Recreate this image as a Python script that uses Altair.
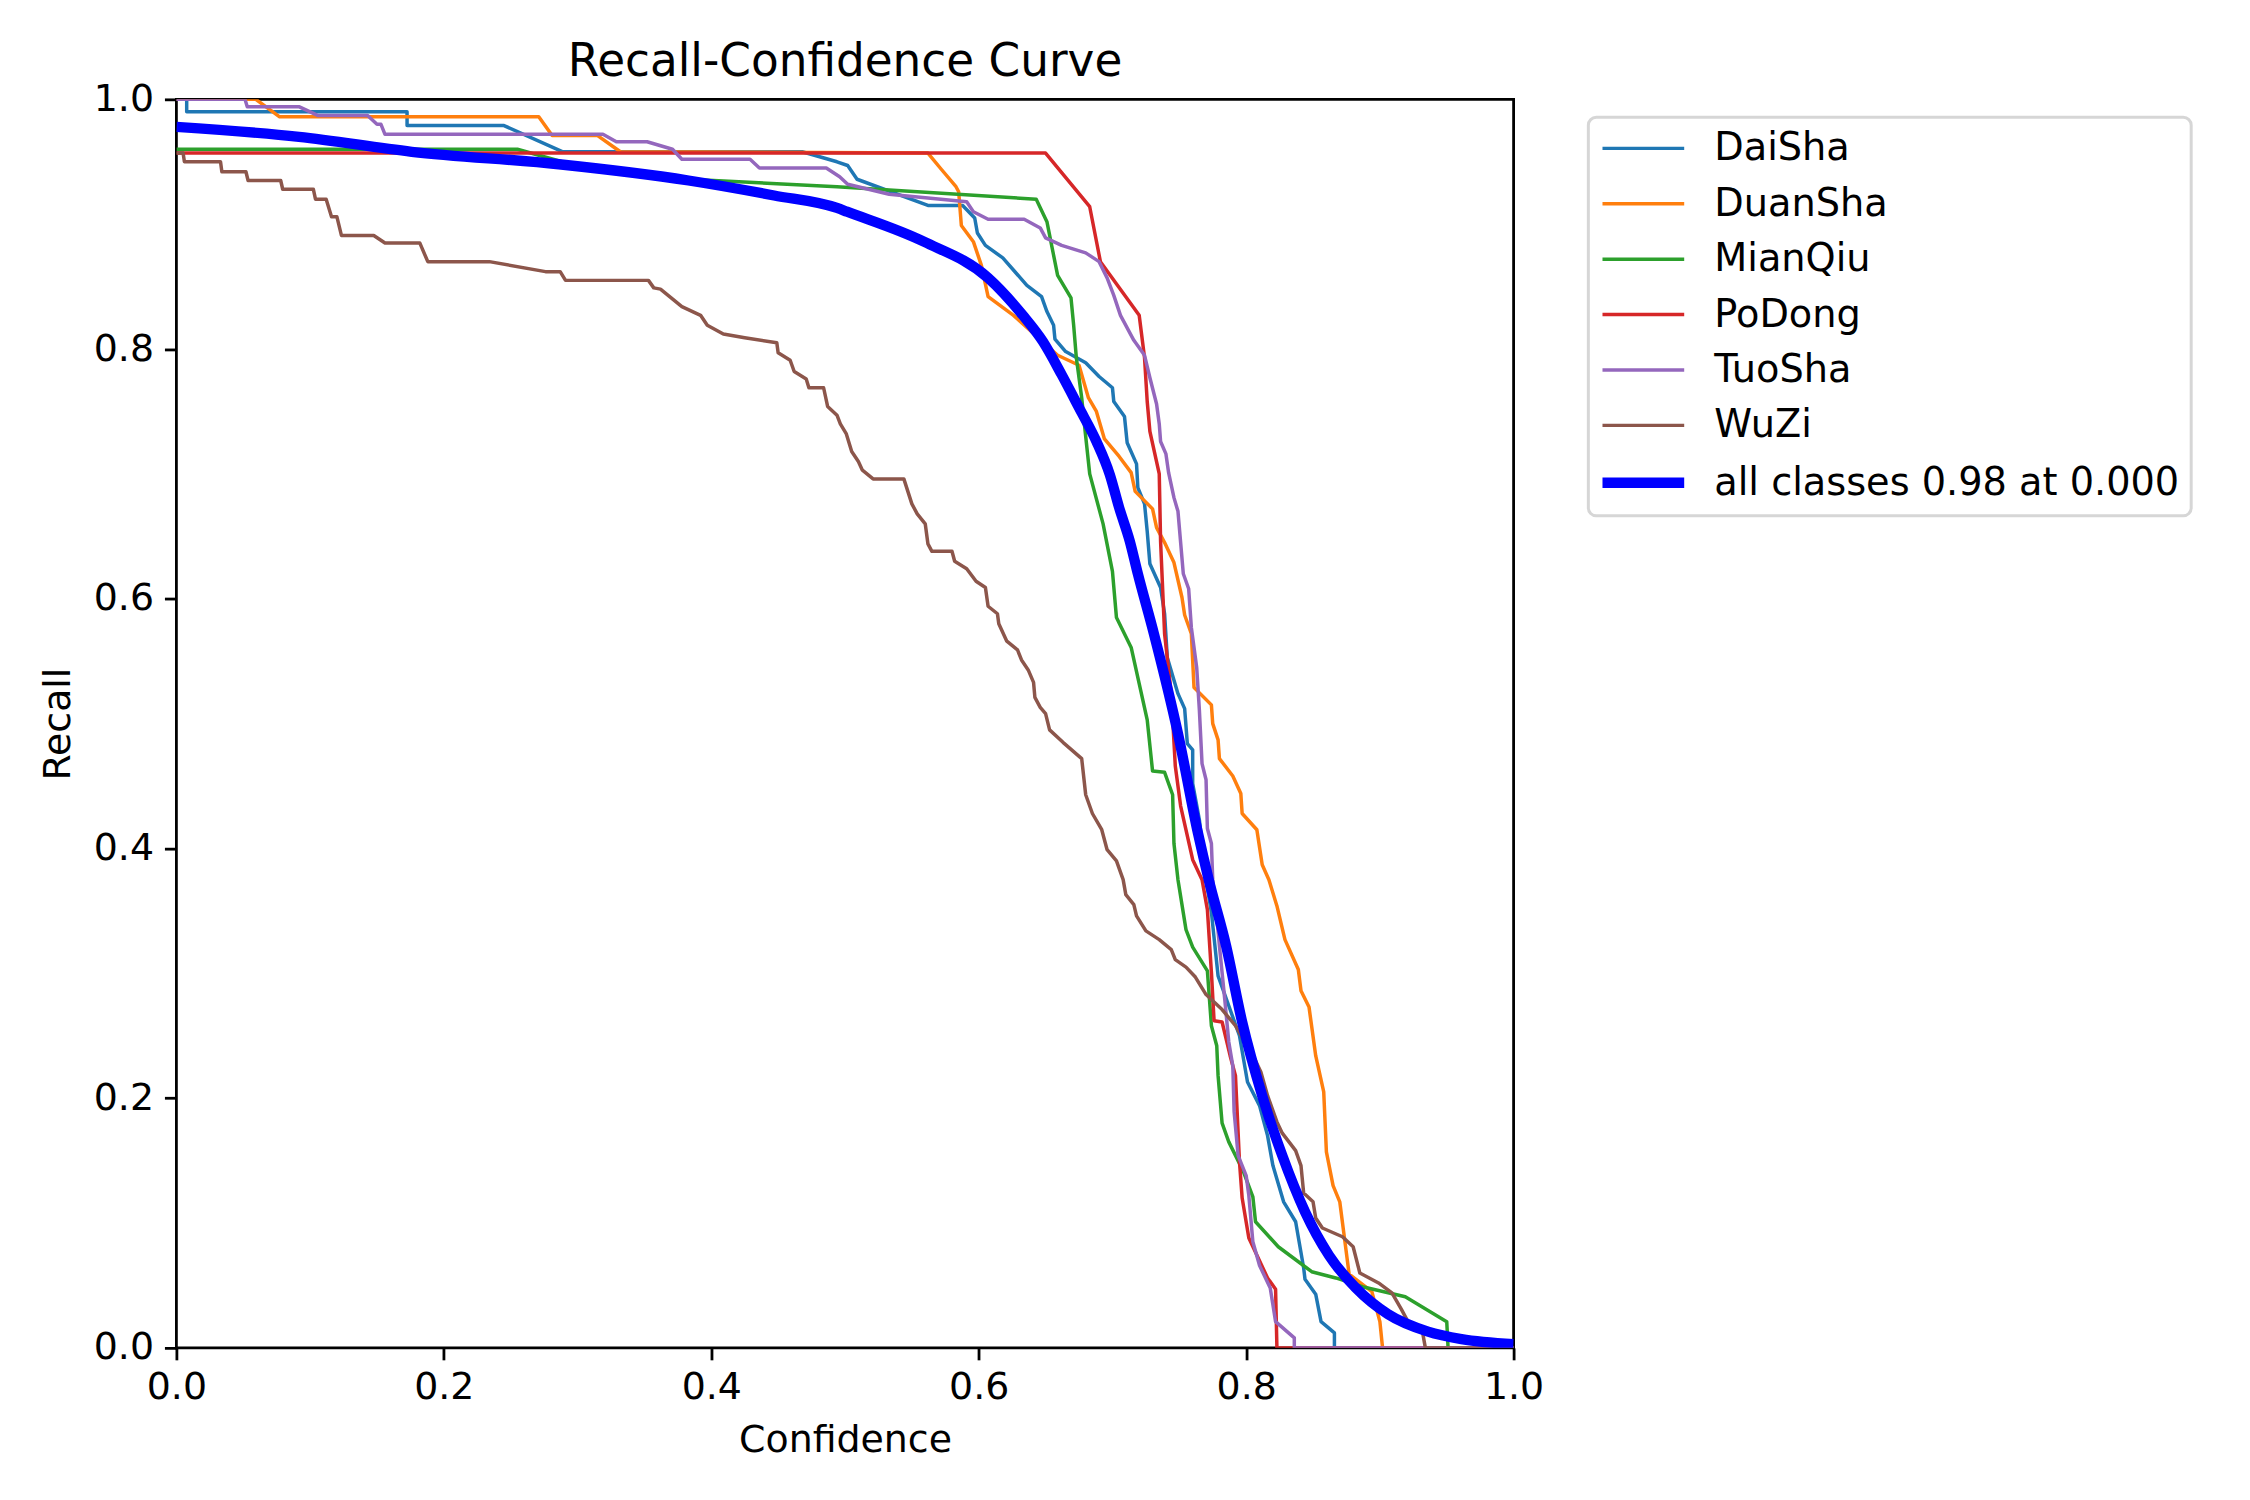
import altair as alt
import pandas as pd

# ---------------- data ----------------
series_names = ["DaiSha", "DuanSha", "MianQiu", "PoDong", "TuoSha", "WuZi",
                "all classes 0.98 at 0.000"]
series_colors = ["#1f77b4", "#ff7f0e", "#2ca02c", "#d62728", "#9467bd", "#8c564b", "#0000ff"]

daisha_conf = [0, 0.0077, 0.0077, 0.1725, 0.1725, 0.245, 0.289, 0.468, 0.494, 0.502, 0.509, 0.562,
               0.588, 0.597, 0.599, 0.605, 0.618, 0.636, 0.647, 0.651, 0.656, 0.657, 0.665, 0.680,
               0.690, 0.700, 0.701, 0.709, 0.711, 0.718, 0.719, 0.724, 0.726, 0.728, 0.736, 0.739,
               0.741, 0.749, 0.754, 0.756, 0.760, 0.760, 0.765, 0.770, 0.774, 0.779, 0.787, 0.795,
               0.801, 0.810, 0.816, 0.820, 0.828, 0.837, 0.843, 0.844, 0.852, 0.856, 0.866, 0.866, 1.0]
daisha_rec = [1.0, 1.0, 0.99, 0.99, 0.979, 0.979, 0.958, 0.958, 0.950, 0.947, 0.936, 0.915,
              0.915, 0.905, 0.893, 0.883, 0.873, 0.851, 0.842, 0.830, 0.819, 0.808, 0.798, 0.789,
              0.778, 0.769, 0.758, 0.746, 0.725, 0.708, 0.689, 0.676, 0.654, 0.628, 0.609, 0.588,
              0.553, 0.524, 0.512, 0.484, 0.479, 0.452, 0.423, 0.375, 0.349, 0.298, 0.274, 0.250,
              0.213, 0.194, 0.170, 0.146, 0.117, 0.101, 0.064, 0.055, 0.043, 0.021, 0.012, 0.0, 0.0]

duansha_conf = [0, 0.0594, 0.0772, 0.271, 0.281, 0.315, 0.332, 0.562, 0.572, 0.583, 0.585, 0.587,
                0.596, 0.602, 0.607, 0.626, 0.659, 0.675, 0.682, 0.688, 0.694, 0.705, 0.714, 0.717,
                0.730, 0.733, 0.739, 0.746, 0.752, 0.754, 0.759, 0.761, 0.774, 0.775, 0.779, 0.780,
                0.790, 0.796, 0.797, 0.808, 0.812, 0.817, 0.823, 0.829, 0.839, 0.841, 0.847, 0.852,
                0.858, 0.860, 0.865, 0.870, 0.877, 0.894, 0.900, 0.902, 1.0]
duansha_rec = [1.0, 1.0, 0.986, 0.986, 0.971, 0.971, 0.958, 0.957, 0.944, 0.930, 0.926, 0.899,
               0.886, 0.867, 0.842, 0.827, 0.795, 0.787, 0.761, 0.750, 0.728, 0.714, 0.701, 0.686,
               0.672, 0.657, 0.645, 0.629, 0.601, 0.587, 0.572, 0.529, 0.515, 0.500, 0.487, 0.472,
               0.458, 0.444, 0.428, 0.415, 0.387, 0.375, 0.354, 0.327, 0.303, 0.286, 0.273, 0.234,
               0.205, 0.157, 0.130, 0.117, 0.059, 0.045, 0.021, 0.0, 0.0]

mianqiu_conf = [0, 0.255, 0.295, 0.383, 0.494, 0.643, 0.651, 0.659, 0.669, 0.671, 0.673, 0.677,
                0.679, 0.683, 0.693, 0.700, 0.703, 0.714, 0.720, 0.726, 0.730, 0.739, 0.745, 0.746,
                0.749, 0.755, 0.760, 0.771, 0.774, 0.778, 0.779, 0.782, 0.787, 0.798, 0.805, 0.807,
                0.824, 0.849, 0.867, 0.887, 0.919, 0.950, 0.951, 1.0]
mianqiu_rec = [0.960, 0.960, 0.948, 0.936, 0.930, 0.920, 0.902, 0.859, 0.841, 0.819, 0.793, 0.761,
               0.740, 0.700, 0.660, 0.622, 0.585, 0.561, 0.532, 0.503, 0.462, 0.461, 0.443, 0.404,
               0.375, 0.335, 0.321, 0.302, 0.258, 0.242, 0.218, 0.180, 0.165, 0.141, 0.121, 0.101,
               0.081, 0.061, 0.056, 0.049, 0.041, 0.021, 0.0, 0.0]

podong_conf = [0, 0.650, 0.683, 0.691, 0.720, 0.724, 0.726, 0.728, 0.735, 0.736, 0.739, 0.744,
               0.747, 0.751, 0.760, 0.767, 0.771, 0.774, 0.776, 0.782, 0.788, 0.792, 0.795, 0.797,
               0.802, 0.816, 0.822, 0.823, 1.0]
podong_rec = [0.957, 0.957, 0.914, 0.870, 0.827, 0.793, 0.758, 0.734, 0.700, 0.646, 0.572, 0.524,
              0.466, 0.434, 0.391, 0.375, 0.351, 0.301, 0.262, 0.261, 0.234, 0.218, 0.149, 0.120,
              0.088, 0.056, 0.047, 0.0, 0.0]

tuosha_conf = [0, 0.0513, 0.053, 0.092, 0.106, 0.143, 0.150, 0.153, 0.156, 0.319, 0.329, 0.352,
               0.371, 0.378, 0.429, 0.436, 0.486, 0.496, 0.502, 0.533, 0.591, 0.596, 0.607, 0.634,
               0.646, 0.650, 0.662, 0.680, 0.690, 0.696, 0.701, 0.706, 0.716, 0.724, 0.728, 0.733,
               0.735, 0.736, 0.740, 0.742, 0.746, 0.749, 0.753, 0.757, 0.759, 0.763, 0.765, 0.767,
               0.770, 0.771, 0.774, 0.775, 0.778, 0.780, 0.784, 0.787, 0.790, 0.791, 0.794, 0.800,
               0.802, 0.805, 0.810, 0.818, 0.822, 0.836, 0.836, 1.0]
tuosha_rec = [1.0, 1.0, 0.994, 0.994, 0.987, 0.987, 0.980, 0.980, 0.972, 0.972, 0.966, 0.966,
              0.960, 0.952, 0.952, 0.945, 0.945, 0.938, 0.932, 0.924, 0.918, 0.910, 0.904, 0.904,
              0.897, 0.889, 0.883, 0.877, 0.870, 0.857, 0.843, 0.827, 0.807, 0.795, 0.777, 0.756,
              0.740, 0.726, 0.716, 0.701, 0.681, 0.670, 0.620, 0.608, 0.577, 0.545, 0.511, 0.468,
              0.455, 0.416, 0.404, 0.375, 0.345, 0.322, 0.279, 0.245, 0.226, 0.189, 0.154, 0.138,
              0.122, 0.085, 0.066, 0.048, 0.021, 0.008, 0.0, 0.0]

wuzi_conf = [0, 0.005, 0.006, 0.033, 0.034, 0.052, 0.0536, 0.078, 0.0795, 0.1024, 0.104, 0.112,
             0.116, 0.120, 0.1234, 0.1476, 0.156, 0.182, 0.188, 0.234, 0.276, 0.287, 0.291, 0.353,
             0.357, 0.362, 0.378, 0.392, 0.397, 0.409, 0.425, 0.449, 0.450, 0.459, 0.462, 0.471,
             0.473, 0.484, 0.487, 0.494, 0.4965, 0.501, 0.505, 0.510, 0.513, 0.521, 0.544, 0.550,
             0.554, 0.560, 0.562, 0.565, 0.580, 0.582, 0.591, 0.598, 0.605, 0.607, 0.614, 0.615,
             0.621, 0.629, 0.632, 0.637, 0.641, 0.642, 0.646, 0.650, 0.653, 0.663, 0.677, 0.680,
             0.685, 0.692, 0.696, 0.703, 0.708, 0.710, 0.716, 0.718, 0.725, 0.735, 0.744, 0.747,
             0.755, 0.762, 0.770, 0.782, 0.792, 0.807, 0.811, 0.816, 0.823, 0.827, 0.837, 0.841,
             0.843, 0.850, 0.852, 0.857, 0.872, 0.880, 0.885, 0.899, 0.909, 0.916, 0.922, 0.932,
             0.934, 1.0]
wuzi_rec = [0.957, 0.957, 0.950, 0.950, 0.942, 0.942, 0.935, 0.935, 0.928, 0.928, 0.920, 0.920,
            0.906, 0.906, 0.891, 0.891, 0.885, 0.885, 0.870, 0.870, 0.862, 0.862, 0.855, 0.855,
            0.849, 0.848, 0.834, 0.827, 0.819, 0.812, 0.809, 0.805, 0.797, 0.791, 0.782, 0.776,
            0.769, 0.769, 0.754, 0.747, 0.740, 0.732, 0.718, 0.710, 0.703, 0.696, 0.696, 0.676,
            0.668, 0.660, 0.644, 0.638, 0.638, 0.630, 0.624, 0.614, 0.609, 0.594, 0.588, 0.580,
            0.566, 0.559, 0.551, 0.543, 0.533, 0.521, 0.513, 0.508, 0.495, 0.485, 0.472, 0.443,
            0.428, 0.415, 0.399, 0.390, 0.375, 0.363, 0.355, 0.346, 0.334, 0.327, 0.319, 0.311,
            0.305, 0.297, 0.283, 0.271, 0.258, 0.230, 0.221, 0.202, 0.181, 0.172, 0.158, 0.146,
            0.124, 0.117, 0.104, 0.096, 0.089, 0.081, 0.060, 0.052, 0.044, 0.031, 0.019, 0.012,
            0.0, 0.0]

all_conf = [0, 0.0917, 0.176, 0.286, 0.383, 0.447, 0.494, 0.5015, 0.559, 0.607, 0.633, 0.648,
            0.662, 0.675, 0.688, 0.698, 0.705, 0.713, 0.719, 0.731, 0.749, 0.764, 0.772, 0.785,
            0.797, 0.812, 0.827, 0.844, 0.862, 0.882, 0.906, 0.936, 0.961, 1.0]
all_rec = [0.978, 0.970, 0.958, 0.948, 0.935, 0.923, 0.913, 0.910, 0.886, 0.857, 0.827, 0.806,
           0.7795, 0.753, 0.726, 0.6995, 0.673, 0.646, 0.620, 0.572, 0.492, 0.412, 0.375, 0.322,
           0.261, 0.202, 0.154, 0.109, 0.074, 0.048, 0.027, 0.013, 0.007, 0.003]

class_curves = [(daisha_conf, daisha_rec), (duansha_conf, duansha_rec), (mianqiu_conf, mianqiu_rec),
                (podong_conf, podong_rec), (tuosha_conf, tuosha_rec), (wuzi_conf, wuzi_rec)]

# ---------------- tables ----------------
rows = []
for name, (cs, rs) in zip(series_names[:6], class_curves):
    for i, (c, r) in enumerate(zip(cs, rs)):
        rows.append({"series": name, "conf": c, "recall": r, "idx": i})
df_cls = pd.DataFrame(rows)
df_all = pd.DataFrame({"series": series_names[6], "conf": all_conf, "recall": all_rec,
                       "idx": list(range(len(all_conf)))})

FONT = "DejaVu Sans"
FS = 38
PLOT_W, PLOT_H = 1342, 1253
THIN, THICK = 3.5, 10.4
tick_vals = [0.0, 0.2, 0.4, 0.6, 0.8, 1.0]

legend = alt.Legend(
    orient="none", legendX=1417, legendY=18, title=None,
    symbolType="M-2.05,0H2.05", symbolSize=1600, symbolOffset=24,
    labelFont=FONT, labelFontSize=38.4, labelColor="black", labelOffset=52, labelLimit=0,
    padding=12, rowPadding=16.6, fillColor="white", strokeColor="#d6d6d6",
    cornerRadius=8, symbolFillColor="transparent",
    symbolStrokeWidth=alt.ExprRef(f"datum.value === '{series_names[6]}' ? {THICK} : {THIN}"),
)
color = alt.Color("series:N", scale=alt.Scale(domain=series_names, range=series_colors),
                  legend=legend, title=None)

x = alt.X("conf:Q", scale=alt.Scale(domain=[0, 1], nice=False, zero=False),
          axis=alt.Axis(values=tick_vals, format=".1f", title="Confidence",
                        titleX=PLOT_W / 2, titleY=104, titleBaseline="alphabetic",
                        titleAlign="center", labelPadding=9))
y = alt.Y("recall:Q", scale=alt.Scale(domain=[0, 1], nice=False, zero=False),
          axis=alt.Axis(values=tick_vals, format=".1f", title="Recall",
                        titleX=-107, titleY=PLOT_H / 2, titleAngle=270,
                        titleBaseline="alphabetic", titleAlign="center", labelPadding=11))

lines_cls = alt.Chart(df_cls).mark_line(
    clip=True, strokeJoin="round", strokeCap="butt", strokeWidth=THIN
).encode(x=x, y=y, color=color, detail="series:N", order="idx:Q")
line_all = alt.Chart(df_all).mark_line(
    clip=True, strokeJoin="round", strokeCap="butt", strokeWidth=THICK, interpolate="monotone"
).encode(x=x, y=y, color=color, detail="series:N", order="idx:Q")

chart = alt.layer(lines_cls, line_all).properties(
    width=PLOT_W, height=PLOT_H,
    autosize=alt.AutoSizeParams(type="none"),
    padding={"left": 169, "top": 89, "right": 731, "bottom": 150},
    title=alt.TitleParams("Recall-Confidence Curve", font=FONT, fontSize=45.5,
                          fontWeight="normal", color="black", anchor="middle",
                          frame="group", baseline="alphabetic", offset=2, dy=43),
).configure(background="white", font=FONT).configure_view(
    stroke="black", strokeWidth=2.8
).configure_axis(
    domain=False, grid=False, labelFont=FONT, labelFontSize=FS, labelColor="black",
    labelFlush=False, labelOverlap=False, tickColor="black", tickWidth=2.8, tickSize=12,
    titleFont=FONT, titleFontSize=FS, titleFontWeight="normal", titleColor="black",
).configure_legend(strokeWidth=3)

chart.save("out.html", embed_options={"renderer": "svg", "actions": False})
